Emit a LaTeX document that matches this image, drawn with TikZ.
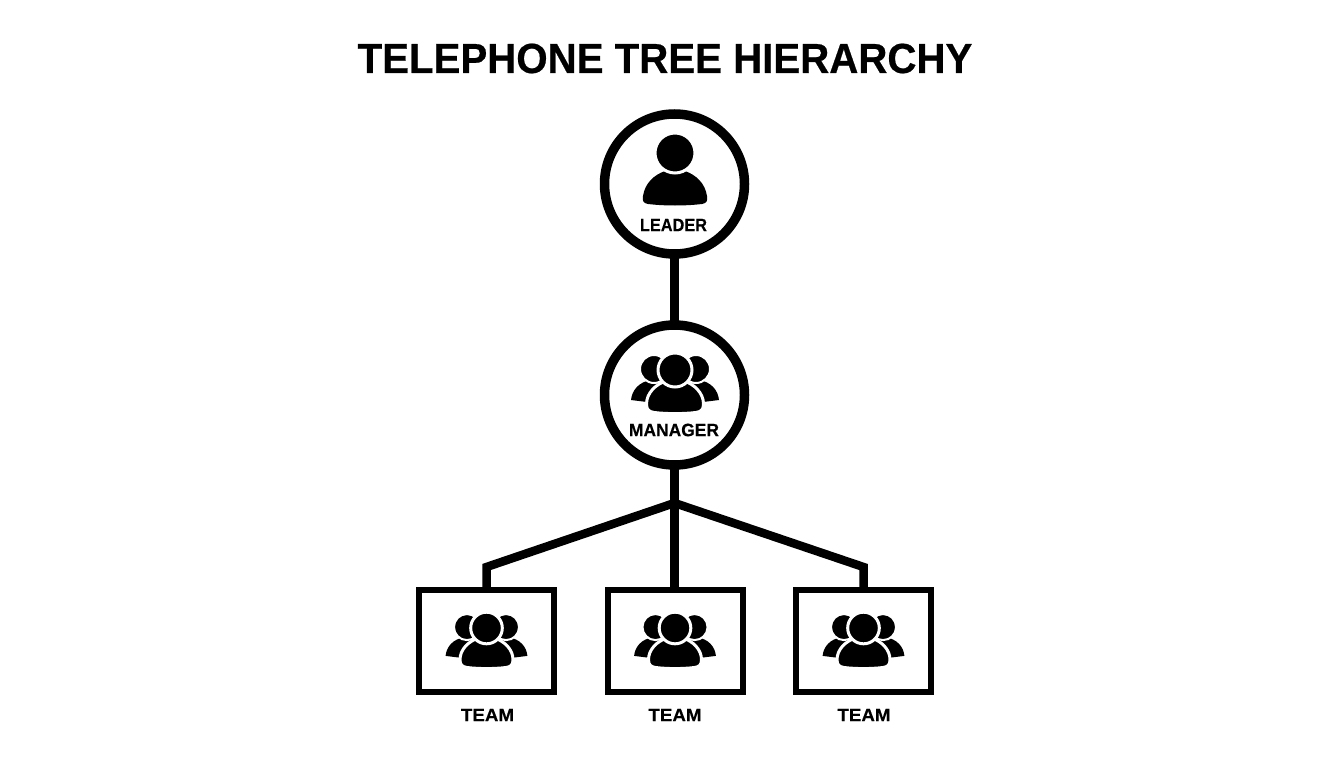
\documentclass[tikz,border=0pt]{standalone}
\usepackage{fontspec}
\usepackage{graphicx}
\setmainfont{Liberation Sans}
\newfontface\titleface{Liberation Sans Bold}[FakeBold=0.5,FakeStretch=0.958]
\newfontface\labelface{Liberation Sans Bold}[FakeBold=0.3]
\tikzset{
  x=1pt,y=-1pt,
  ringnode/.style={circle,draw=black,line width=9.5pt,minimum size=140pt,inner sep=0pt,outer sep=0pt},
  boxnode/.style={rectangle,draw=black,line width=6pt,minimum width=135pt,minimum height=102pt,inner sep=0pt,outer sep=0pt},
  wire/.style={draw=black,line width=8.5pt,line join=miter},
  titletext/.style={font=\titleface\fontsize{42}{46}\selectfont,inner sep=0pt},
  labeltext/.style={font=\labelface\fontsize{18}{20}\selectfont,inner sep=0pt},
  halo/.style={draw=white,line width=3pt,fill=black},
  thinhalo/.style={draw=white,line width=2pt,fill=black},
  groupicon/.pic={
    \fill[black] (-44,30) .. controls (-43,20) and (-36,12) .. (-24,10) -- (-8,12) -- (-20,33) -- cycle;
    \fill[black] (44,30) .. controls (43,20) and (36,12) .. (24,10) -- (8,12) -- (20,33) -- cycle;
    \path[thinhalo] (-21,-1) circle[radius=14];
    \path[thinhalo] (21,-1) circle[radius=14];
    \path[halo] (-28.5,34) .. controls (-28.5,23) and (-19,14) .. (-9,11) -- (9,11) .. controls (19,14) and (28.5,23) .. (28.5,34) .. controls (28.5,40) and (26,41.5) .. (21,42.5) .. controls (8,44) and (-8,44) .. (-21,42.5) .. controls (-26,41.5) and (-28.5,40) .. (-28.5,34) -- cycle;
    \path[halo] (0,0) circle[radius=17];
  },
}
\begin{document}
\begin{tikzpicture}
\useasboundingbox (0,0) rectangle (1344,768);
\fill[white] (0,0) rectangle (1344,768);
\node[titletext] (title) at (665,58.5) {TELEPHONE TREE HIERARCHY};
\node[ringnode] (leader) at (674.5,184) {};
\node[ringnode] (manager) at (674.5,395) {};
\node[boxnode] (team1) at (486.5,641) {};
\node[boxnode] (team2) at (675,641) {};
\node[boxnode] (team3) at (863.5,641) {};
\coordinate (hub) at (674.5,503);
\coordinate (elbowa) at (486.5,567);
\coordinate (elbowc) at (863.5,567);
\draw[wire] (leader.south) -- (manager.north);
\draw[wire] (manager.south) -- (hub);
\draw[wire] (hub) -- (hub |- team2.north);
\draw[wire] (hub) -- (elbowa) -- (team1.north);
\draw[wire] (hub) -- (elbowc) -- (team3.north);
\fill[black] (643,196) .. controls (645,183) and (654,175) .. (665,171) -- (685,171) .. controls (696,175) and (705,183) .. (707,196) .. controls (708,202) and (706,203) .. (702,204) .. controls (685,206) and (665,206) .. (648,204) .. controls (644,203) and (642,202) .. (643,196) -- cycle;
\path[halo] (675,153) circle[radius=20];
\pic at (675,370) {groupicon};
\pic[scale=0.93] at (486.5,628) {groupicon};
\pic[scale=0.93] at (675,628) {groupicon};
\pic[scale=0.93] at (863.5,628) {groupicon};
\node[labeltext] (leaderlabel) at (673.5,225) {\scalebox{0.905}[1]{LEADER}};
\node[labeltext] (managerlabel) at (674,430) {\scalebox{0.968}[1]{MANAGER}};
\node[labeltext] (teamlabela) at (487.5,715) {\scalebox{1.04}[1]{TEAM}};
\node[labeltext] (teamlabelb) at (675,715) {\scalebox{1.04}[1]{TEAM}};
\node[labeltext] (teamlabelc) at (864,715) {\scalebox{1.04}[1]{TEAM}};
\end{tikzpicture}
\end{document}
